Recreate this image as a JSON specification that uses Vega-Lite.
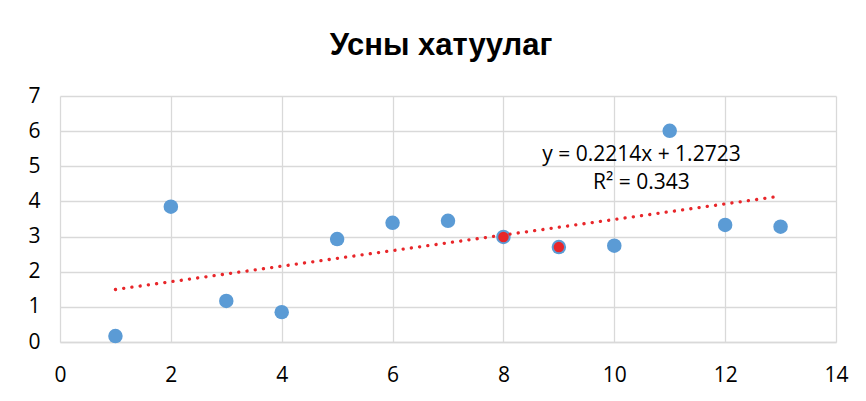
{
  "$schema": "https://vega.github.io/schema/vega-lite/v6.json",
  "width": 776,
  "height": 246,
  "autosize": {"type": "none"},
  "padding": {"left": 60, "top": 96, "right": 30, "bottom": 59},
  "background": "white",
  "title": {
    "text": "Усны хатуулаг",
    "font": "Liberation Sans",
    "fontSize": 31,
    "fontWeight": "bold",
    "color": "#000000",
    "anchor": "middle",
    "frame": "group",
    "offset": 23,
    "dx": -7
  },
  "config": {
    "view": {"stroke": null},
    "axis": {
      "labelFont": "Open Sans",
      "labelFontSize": 21,
      "labelColor": "#000000",
      "labelFlush": false,
      "gridColor": "#d9d9d9",
      "gridWidth": 1.3,
      "ticks": false,
      "title": null
    }
  },
  "datasets": {
    "points": [
      {"x": 1, "y": 0.17, "group": "base"},
      {"x": 2, "y": 3.85, "group": "base"},
      {"x": 3, "y": 1.17, "group": "base"},
      {"x": 4, "y": 0.85, "group": "base"},
      {"x": 5, "y": 2.93, "group": "base"},
      {"x": 6, "y": 3.39, "group": "base"},
      {"x": 7, "y": 3.45, "group": "base"},
      {"x": 8, "y": 2.99, "group": "highlight"},
      {"x": 9, "y": 2.7, "group": "highlight"},
      {"x": 10, "y": 2.74, "group": "base"},
      {"x": 11, "y": 6.01, "group": "base"},
      {"x": 12, "y": 3.33, "group": "base"},
      {"x": 13, "y": 3.28, "group": "base"}
    ],
    "trend": [
      {"x": 1, "y": 1.4937},
      {"x": 13, "y": 4.1505}
    ],
    "eq": [
      {"x": 10.49, "y": 5.31, "label": "y = 0.2214x + 1.2723"},
      {"x": 10.49, "y": 4.52, "label": "R² = 0.343"}
    ]
  },
  "encoding": {
    "x": {
      "field": "x",
      "type": "quantitative",
      "scale": {"domain": [0, 14], "nice": false},
      "axis": {"values": [0, 2, 4, 6, 8, 10, 12, 14], "format": "d", "domainColor": "#d9d9d9", "domainWidth": 1.3, "labelPadding": 22}
    },
    "y": {
      "field": "y",
      "type": "quantitative",
      "scale": {"domain": [0, 7], "nice": false},
      "axis": {"values": [0, 1, 2, 3, 4, 5, 6, 7], "format": "d", "domain": false, "labelPadding": 20}
    }
  },
  "layer": [
    {
      "data": {"name": "points"},
      "mark": {"type": "circle", "color": "#5b9bd5", "opacity": 1, "size": 210}
    },
    {
      "data": {"name": "trend"},
      "mark": {"type": "line", "color": "#e8262a", "strokeWidth": 3.3, "strokeDash": [0.1, 8.2], "strokeCap": "round"}
    },
    {
      "data": {"name": "points"},
      "transform": [{"filter": "datum.group === 'highlight'"}],
      "mark": {"type": "circle", "color": "#e8262a", "opacity": 1, "size": 110}
    },
    {
      "data": {"name": "eq"},
      "mark": {"type": "text", "font": "Open Sans", "fontSize": 21, "color": "#000000", "align": "center", "baseline": "middle"},
      "encoding": {
        "text": {"field": "label"}
      }
    }
  ]
}
